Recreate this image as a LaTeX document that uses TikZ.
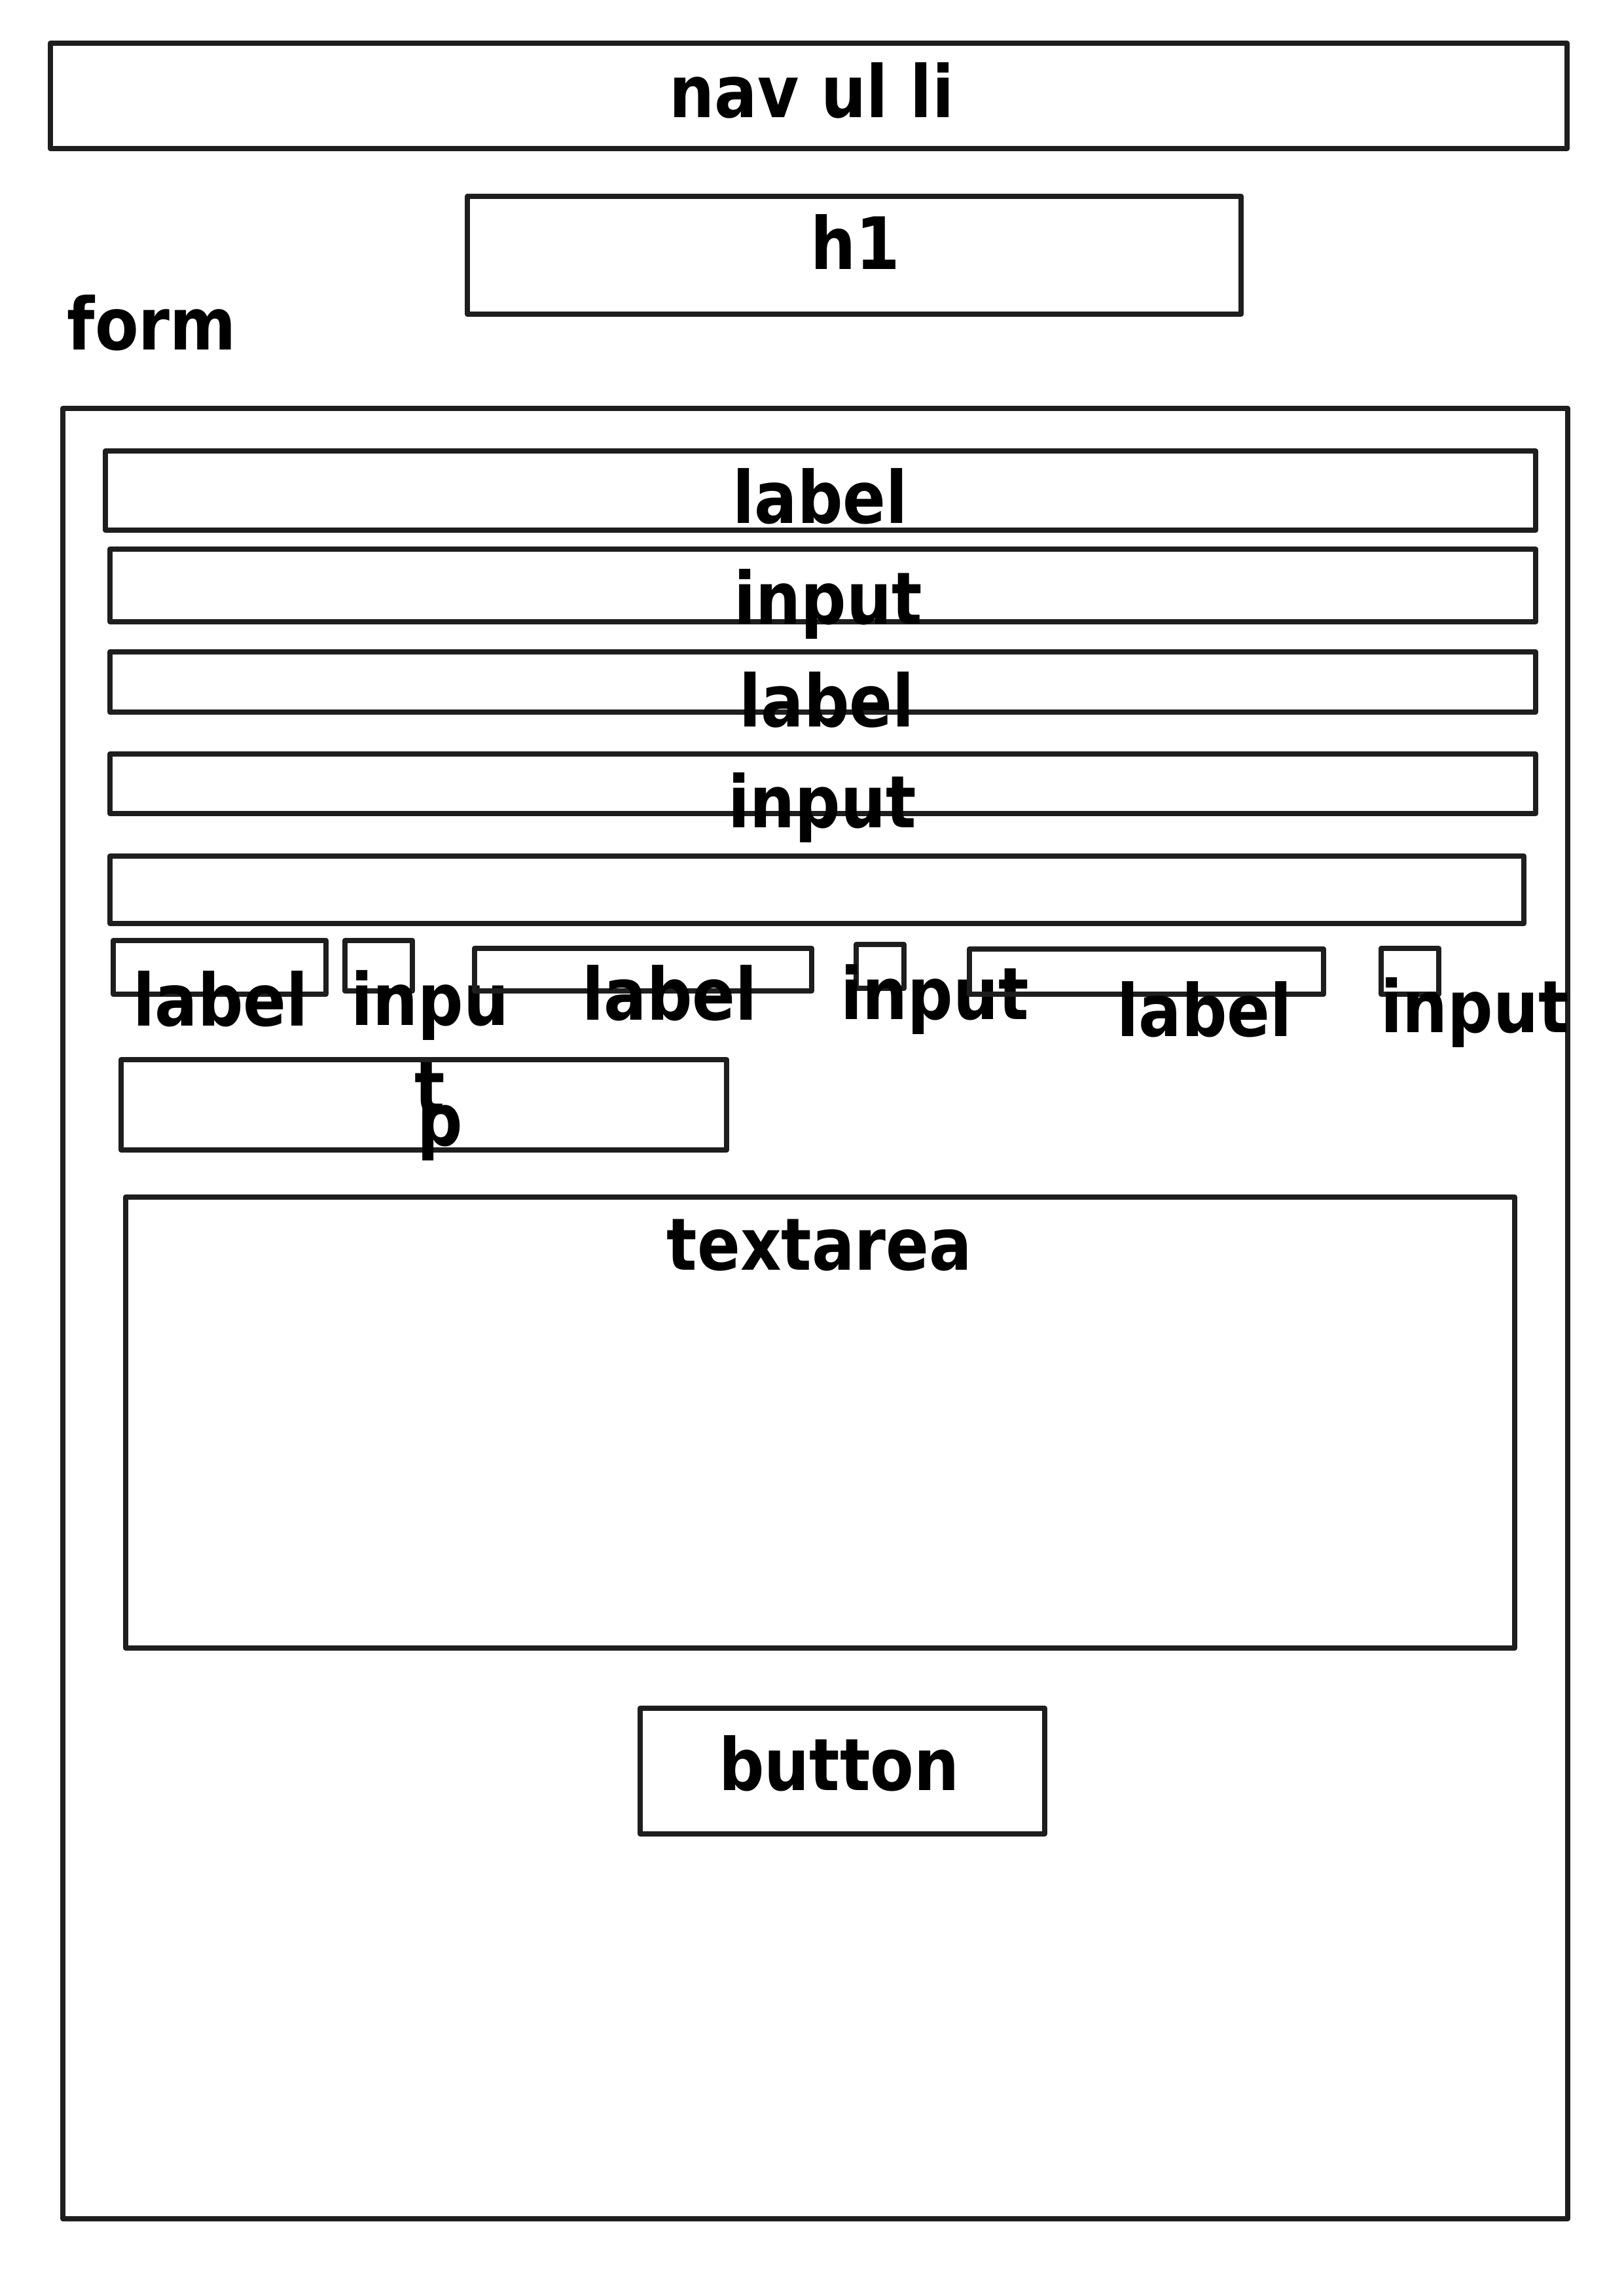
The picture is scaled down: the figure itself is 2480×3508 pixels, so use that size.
\documentclass[tikz,border=0pt]{standalone}
\usepackage{fontspec}
\usepackage{tikz}
\usetikzlibrary{positioning}
\newfontfamily\wirefont{DejaVu Sans}[FakeStretch=0.88]
\definecolor{wireline}{HTML}{1E1E1E}

\begin{document}
\begin{tikzpicture}[x=0.24pt, y=-0.24pt,
    box/.style={draw=wireline, line width=1.9pt, line join=round},
    tag/.style={font=\wirefont\bfseries\fontsize{26.5}{32}\selectfont, inner sep=0pt, anchor=base, align=center}]

  \useasboundingbox (0,0) rectangle (2480,3508);

  % nav and heading
  \draw[box] (77,66) rectangle (2394,227);
  \node[tag] (nav) at (1240,180) {nav ul li};
  \draw[box] (714,300) rectangle (1896,480);
  \node[tag] (head) at (1307,412) {h1};

  % form
  \node[tag, anchor=base west] (formname) at (102,535) {form};
  \draw[box] (96,624) rectangle (2395,3390);

  % stacked fields
  \draw[box] (161,689) rectangle (2346,810);
  \node[tag] (lab1) at (1253,800) {label};
  \draw[box] (168,839) rectangle (2346,950);
  \node[tag] (in1) at (1265,953) {input};
  \draw[box] (168,996) rectangle (2346,1088);
  \node[tag] (lab2) at (1263,1110) {label};
  \draw[box] (168,1152) rectangle (2346,1243);
  \node[tag] (in2) at (1256,1264) {input};
  \draw[box] (168,1308) rectangle (2328,1411);

  % radio row
  \draw[box] (173,1437) rectangle (498,1519);
  \node[tag] (labA) at (337,1567) {label};
  \draw[box] (527,1437) rectangle (630,1514);
  \node[tag] (inA) at (657,1700) {inpu\\t};
  \draw[box] (725,1449) rectangle (1240,1514);
  \node[tag] (labB) at (1023,1558) {label};
  \draw[box] (1308,1443) rectangle (1381,1510);
  \node[tag] (inB) at (1428,1557) {input};
  \draw[box] (1481,1450) rectangle (2022,1519);
  \node[tag] (labC) at (1840,1583) {label};
  \draw[box] (2110,1449) rectangle (2198,1519);
  \node[tag] (inC) at (2253,1577) {input};

  % p
  \draw[box] (185,1619) rectangle (1110,1757);
  \node[tag] (para) at (672,1750) {p};

  % textarea
  \draw[box] (192,1829) rectangle (2314,2518);
  \node[tag] (area) at (1252,1940) {textarea};

  % button
  \draw[box] (978,2610) rectangle (1596,2802);
  \node[tag] (send) at (1282,2735) {button};
\end{tikzpicture}
\end{document}
